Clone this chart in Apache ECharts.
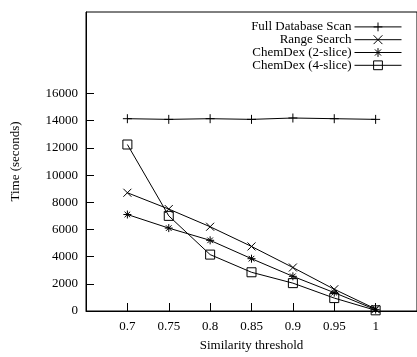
<!DOCTYPE html>
<html><head><meta charset="utf-8">
<script src="https://cdn.jsdelivr.net/npm/echarts@6/dist/echarts.min.js"></script>
<style>html,body{margin:0;padding:0;background:#fff}#c{width:417px;height:357px}</style>
</head><body><div id="c"></div>
<script>
const thresholds = [0.7, 0.75, 0.8, 0.85, 0.9, 0.95, 1];
const fullScan = [14150, 14100, 14150, 14100, 14200, 14150, 14100];
const rangeSearch = [8700, 7500, 6200, 4750, 3200, 1600, 150];
const chemDex2 = [7100, 6100, 5200, 3850, 2550, 1350, 100];
const chemDex4 = [12250, 7000, 4150, 2850, 2050, 950, 50];
const xTickValues = [0.7, 0.75, 0.8, 0.85, 0.9, 0.95, 1];
const yTickValues = [0, 2000, 4000, 6000, 8000, 10000, 12000, 14000, 16000];
const seriesNames = ['Full Database Scan', 'Range Search', 'ChemDex (2-slice)', 'ChemDex (4-slice)'];

const FONT = 'Liberation Serif';
const symbols = [
  'path://M5,0L5,10M0,5L10,5',
  'path://M0,0L10,10M10,0L0,10',
  'path://M5,0L5,10M0,5L10,5M1.5,1.5L8.5,8.5M8.5,1.5L1.5,8.5',
  'path://M0,0L10,0L10,10L0,10Z'
];
const sizes = [9, 8, 8, 9];
const dataSets = [fullScan, rangeSearch, chemDex2, chemDex4];

const chart = echarts.init(document.getElementById('c'), null, {renderer: 'canvas'});
chart.setOption({
  animation: false,
  backgroundColor: '#fff',
  grid: {left: 86, right: -3, top: 12, bottom: 42, show: true, borderColor: '#000', borderWidth: 1, backgroundColor: 'transparent'},
  legend: {
    orient: 'vertical', right: 15, top: 20, align: 'right', padding: 0,
    itemWidth: 47, itemHeight: 11, itemGap: -1,
    textStyle: {fontFamily: FONT, fontSize: 13, color: '#000', lineHeight: 13.7, padding: [0, -2, 0, 0]},
    lineStyle: {width: 1, color: '#000'},
    itemStyle: {color: 'none', borderColor: '#000', borderWidth: 1},
    data: seriesNames
  },
  xAxis: {
    type: 'value', min: 0.65, max: 1.05,
    name: 'Similarity threshold', nameLocation: 'middle', nameGap: 28,
    nameTextStyle: {fontFamily: FONT, fontSize: 13, color: '#000'},
    axisLine: {show: true, lineStyle: {color: '#000', width: 1}},
    axisTick: {show: true, inside: true, length: 8, lineStyle: {color: '#000'}, customValues: xTickValues},
    axisLabel: {fontFamily: FONT, fontSize: 13, color: '#000', margin: 9, customValues: xTickValues, formatter: v => String(+v.toFixed(2))},
    splitLine: {show: false}
  },
  yAxis: {
    type: 'value', min: 0, max: 22000,
    name: 'Time (seconds)', nameLocation: 'middle', nameGap: 64, nameRotate: 90,
    nameTextStyle: {fontFamily: FONT, fontSize: 13, color: '#000'},
    axisLine: {show: true, lineStyle: {color: '#000', width: 1}},
    axisTick: {show: true, inside: true, length: 8, lineStyle: {color: '#000'}, customValues: yTickValues},
    axisLabel: {fontFamily: FONT, fontSize: 13, color: '#000', margin: 8, customValues: yTickValues, formatter: v => String(v)},
    splitLine: {show: false}
  },
  series: seriesNames.map((name, i) => ({
    name, type: 'line',
    data: thresholds.map((t, j) => [t, dataSets[i][j]]),
    symbol: symbols[i], symbolSize: sizes[i], showAllSymbol: true,
    lineStyle: {color: '#000', width: 1},
    itemStyle: {color: 'none', borderColor: '#000', borderWidth: 1},
    emphasis: {disabled: true}
  }))
});
</script></body></html>
